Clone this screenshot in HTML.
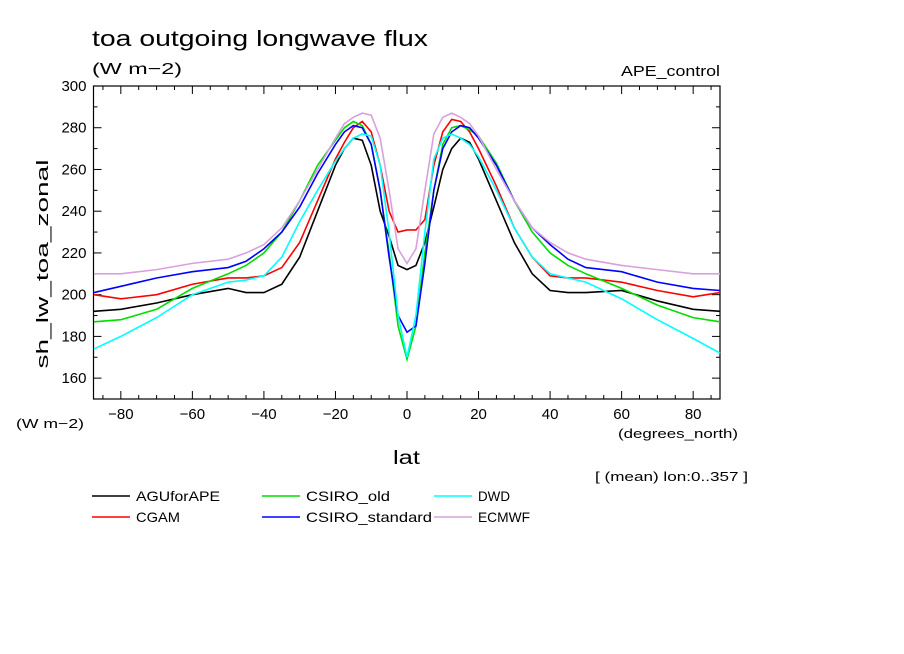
<!DOCTYPE html>
<html><head><meta charset="utf-8"><style>
body{margin:0;background:#fff;}
svg{display:block;font-family:"Liberation Sans",sans-serif;}
</style></head><body>
<svg id="chart" width="904" height="654">
<text x="92" y="46" font-size="22" textLength="336" lengthAdjust="spacingAndGlyphs">toa outgoing longwave flux</text>
<text x="92" y="74" font-size="16" textLength="90" lengthAdjust="spacingAndGlyphs">(W m−2)</text>
<text x="621" y="76" font-size="15" textLength="99" lengthAdjust="spacingAndGlyphs">APE_control</text>
<text x="48" y="264" font-size="17" text-anchor="middle" textLength="209" lengthAdjust="spacingAndGlyphs" transform="rotate(-90 48 264)">sh_lw_toa_zonal</text>
<text x="16" y="428" font-size="13" textLength="68" lengthAdjust="spacingAndGlyphs">(W m−2)</text>
<text x="618" y="438" font-size="13" textLength="120" lengthAdjust="spacingAndGlyphs">(degrees_north)</text>
<text x="393" y="464" font-size="19" textLength="27" lengthAdjust="spacingAndGlyphs">lat</text>
<text x="595" y="481" font-size="13" textLength="153" lengthAdjust="spacingAndGlyphs">[ (mean) lon:0..357 ]</text>
<g id="plot"></g>
<g id="legend"></g>
</svg>
<script>
const lat=[-87.5,-80,-70,-60,-50,-45,-40,-35,-30,-25,-20,-17.5,-15,-12.5,-10,-7.5,-5,-2.5,0,2.5,5,7.5,10,12.5,15,17.5,20,25,30,35,40,45,50,60,70,80,87.5];
const agu=[192,193,196,200,203,201,201,205,218,240,262,270,275,274,262,240,228,214,212,214,225,242,260,270,275,273,265,245,225,210,202,201,201,202,197,193,192];
const cgam=[200,198,200,205,208,208,209,213,225,245,265,273,280,283,278,262,240,230,231,231,236,262,278,284,283,278,270,252,232,218,209,208,208,206,202,199,201];
const csiroOld=[187,188,193,203,210,214,220,230,245,262,274,280,283,281,272,250,220,185,169,185,220,250,272,280,281,279,276,263,245,230,220,214,210,203,195,189,187];
const csiroStd=[201,204,208,211,213,216,222,230,242,258,272,278,281,280,272,250,218,190,182,185,215,250,270,278,281,280,275,262,245,232,224,217,213,211,206,203,202];
const dwd=[174,180,189,200,206,207,209,218,235,250,264,270,275,277,276,262,230,190,170,190,230,265,275,277,275,272,266,250,232,218,210,208,206,198,188,179,172];
const ecmwf=[210,210,212,215,217,220,224,232,245,260,275,282,285,287,286,275,250,222,215,222,250,277,285,287,285,282,276,260,245,232,225,220,217,214,212,210,210];
const seriesNames=["AGUforAPE","CGAM","CSIRO_old","CSIRO_standard","DWD","ECMWF"];
const seriesColors=["#000","#f00","#0d0","#00f","#0ff","#d9a0dd"];
const labelLens=[84,44,84,126,32,52];
const xTicks=[-80,-60,-40,-20,0,20,40,60,80];
const yTicks=[160,180,200,220,240,260,280,300];
const NS="http://www.w3.org/2000/svg";
const L=93.5,R=720,T=86,B=399;
const xs=v=>407+v*(R-407)/87.5;
const ys=v=>B-(v-150)*(B-T)/150;
const plot=document.getElementById('plot');
function mk(tag,attrs,parent){const e=document.createElementNS(NS,tag);for(const k in attrs)e.setAttribute(k,attrs[k]);parent.appendChild(e);return e;}
const frame=mk('rect',{x:L,y:T,width:R-L,height:B-T,fill:'none',stroke:'#000','stroke-width':1.2},plot);


for(let v=-85;v<=85;v+=5){const x=xs(v);const big=v%20===0;const len=big?8:4;
mk('line',{x1:x,y1:B,x2:x,y2:B-len,stroke:'#000'},plot);mk('line',{x1:x,y1:T,x2:x,y2:T+len,stroke:'#000'},plot);}
for(let v=150;v<=300;v+=10){const y=ys(v);const big=v%20===0;const len=big?8:4;
mk('line',{x1:L,y1:y,x2:L+len,y2:y,stroke:'#000'},plot);mk('line',{x1:R,y1:y,x2:R-len,y2:y,stroke:'#000'},plot);}
xTicks.forEach(v=>{const t=mk('text',{x:xs(v),y:B+20,'font-size':15,'text-anchor':'middle'},plot);t.textContent=(v<0?'−':'')+Math.abs(v);

});
yTicks.forEach(v=>{const t=mk('text',{x:L-7,y:ys(v)+5,'font-size':15,'text-anchor':'end'},plot);t.textContent=v;

});
const data=[agu,cgam,csiroOld,csiroStd,dwd,ecmwf];
data.forEach((arr,i)=>{const p=mk('polyline',{points:arr.map((v,j)=>xs(lat[j])+','+ys(v)).join(' '),fill:'none',stroke:seriesColors[i],'stroke-width':1.6},plot);

});
const leg=document.getElementById('legend');
const lx=[92,262,434],ly=[496,517];
seriesNames.forEach((n,i)=>{const c=Math.floor(i/2),r=i%2;
const g=mk('g',{},leg);


mk('line',{x1:lx[c],y1:ly[r],x2:lx[c]+38,y2:ly[r],stroke:seriesColors[i],'stroke-width':1.6},g);
const t=mk('text',{x:lx[c]+44,y:ly[r]+5,'font-size':14,textLength:labelLens[i],lengthAdjust:'spacingAndGlyphs'},g);t.textContent=n;});
</script>
</body></html>
